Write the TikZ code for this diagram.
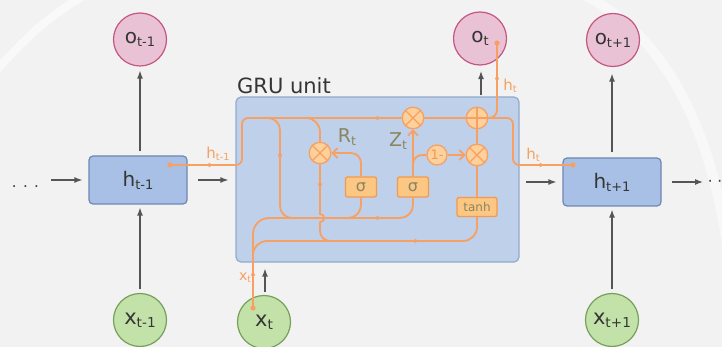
\documentclass[tikz,border=0pt]{standalone}
\usepackage{fontspec}
\setmainfont{DejaVu Sans}
\usetikzlibrary{arrows.meta}
\definecolor{bgc}{HTML}{F2F2F2}
\definecolor{ofill}{HTML}{EAC2D5}
\definecolor{odraw}{HTML}{C4567F}
\definecolor{xfill}{HTML}{C2E2AA}
\definecolor{xdraw}{HTML}{74A057}
\definecolor{hfill}{HTML}{A8C0E6}
\definecolor{hdraw}{HTML}{6D88B4}
\definecolor{gfill}{HTML}{BED0EA}
\definecolor{gdraw}{HTML}{93AACB}
\definecolor{orl}{HTML}{F7A062}
\definecolor{orf}{HTML}{FDD19C}
\definecolor{sfill}{HTML}{FCC782}
\definecolor{sdraw}{HTML}{F29A50}
\definecolor{olv}{HTML}{8A8560}
\definecolor{txt}{HTML}{353535}
\definecolor{arr}{HTML}{555555}
\newcommand{\lsub}[1]{\raisebox{-0.15em}{\scalebox{0.65}{#1}}}
\newcommand{\fs}[1]{\fontsize{#1}{#1}\selectfont}
\begin{document}
\begin{tikzpicture}[x=1pt,y=-1pt,
  outc/.style={circle,draw=odraw,fill=ofill,line width=1.2pt,minimum size=53pt,inner sep=0pt,text=txt,font=\fs{20}},
  inc/.style={circle,draw=xdraw,fill=xfill,line width=1.2pt,minimum size=53pt,inner sep=0pt,text=txt,font=\fs{21}},
  hbox/.style={rectangle,rounded corners=4pt,draw=hdraw,fill=hfill,line width=1.2pt,minimum width=98pt,minimum height=48pt,inner sep=0pt,text=txt,font=\fs{20}},
  blk/.style={draw=arr,line width=1.3pt,-{Latex[length=8pt,width=6pt]}},
  ol/.style={draw=orl,line width=1.8pt},
  mult/.style={circle,draw=orl,fill=orf,line width=1.3pt,minimum size=21.5pt,inner sep=0pt,path picture={\draw[orl,line width=1.3pt] (path picture bounding box.north west)--(path picture bounding box.south east) (path picture bounding box.north east)--(path picture bounding box.south west);}},
  addc/.style={circle,draw=orl,fill=orf,line width=1.3pt,minimum size=21.5pt,inner sep=0pt,path picture={\draw[orl,line width=1.3pt] (path picture bounding box.north)--(path picture bounding box.south) (path picture bounding box.west)--(path picture bounding box.east);}},
  gate/.style={rectangle,rounded corners=2pt,draw=sdraw,fill=sfill,line width=1.3pt,minimum width=31pt,minimum height=20pt,inner sep=0pt,text=olv,font=\fs{16}},
  olab/.style={text=orl,inner sep=0pt,font=\fs{15}},
  glab/.style={text=olv,inner sep=0pt,font=\fs{19}},
  midr/.style={-{Latex[length=5.5pt,width=5pt]}},
  opn/.style={-{Straight Barb[length=5pt,width=10pt]}},
]
\fill[bgc] (0,0) rectangle (722,347);
\useasboundingbox (0,0) rectangle (722,347);
\draw[white,line width=8pt,opacity=.6] (-5,72) .. controls (25,38) and (50,15) .. (85,-5);
\draw[white,line width=10pt,opacity=.5] (578,-8) .. controls (660,30) and (712,120) .. (730,265);

% outer nodes
\node[outc] (otm1) at (140,39.5) {o\lsub{t-1}};
\node[outc] (ot) at (480,38.5) {o\lsub{t}};
\node[outc] (otp1) at (613,40) {o\lsub{t+1}};
\node[inc] (xtm1) at (140,320) {x\lsub{t-1}};
\node[inc] (xt) at (264,322) {x\lsub{t}};
\node[inc] (xtp1) at (612,320) {x\lsub{t+1}};
\node[hbox] (htm1) at (138,180) {h\lsub{t-1}};
\node[hbox] (htp1) at (612,182) {h\lsub{t+1}};
\node[draw=gdraw,fill=gfill,rounded corners=5pt,line width=1.2pt,minimum width=283pt,minimum height=165pt,inner sep=0pt] (gru) at (377.5,179.5) {};
\node[anchor=base west,text=txt,font=\fs{21},inner sep=0pt] (grulab) at (237,93.5) {GRU unit};
\node[anchor=base,text=txt,font=\fs{15},inner sep=0pt] (dl) at (25.5,188) {. . .};
\node[anchor=base west,text=txt,font=\fs{15},inner sep=0pt] (dr) at (707.6,186.5) {· ·};

% black arrows
\draw[blk,shorten <=12pt,shorten >=6pt] (dl.east |- htm1.west) -- (htm1.west);
\draw[blk,shorten <=10pt,shorten >=7pt] (htm1.east) -- (htm1.east -| gru.west);
\draw[blk,shorten <=6pt,shorten >=6pt] (htp1.west -| gru.east) -- (htp1.west);
\draw[blk,shorten <=10pt,shorten >=4.6pt] (htp1.east) -- (htp1.east -| dr.west);
\draw[blk,shorten <=3.5pt,shorten >=3pt] (xtm1.north) -- (xtm1.north |- htm1.south);
\draw[blk,shorten <=4pt,shorten >=4pt] (otm1.south |- htm1.north) -- (otm1.south);
\draw[blk,shorten <=2.5pt,shorten >=6pt] ([xshift=1pt]xt.north) -- ([xshift=1pt]xt.north |- gru.south);
\draw[blk,shorten <=1pt,shorten >=5.5pt] ([xshift=1pt]ot.south |- gru.north) -- ([xshift=1pt]ot.south);
\draw[blk,shorten <=3.5pt,shorten >=3pt] (xtp1.north) -- (xtp1.north |- htp1.south);
\draw[blk,shorten <=5pt,shorten >=6.5pt] (htp1.north) -- (htp1.north |- otp1.south);

% gate nodes
\node[mult] (mR) at (320,153) {};
\node[mult] (mZ) at (413,118) {};
\node[addc] (pl) at (477,118) {};
\node[mult] (mH) at (477,155) {};
\node[gate] (sR) at (361,187) {σ};
\node[gate] (sZ) at (413,187) {σ};
\node[gate,minimum width=40pt,minimum height=19pt,font=\fs{12}] (th) at (477,207) {tanh};
\node[circle,draw=orl,fill=orf,line width=1.3pt,minimum size=20pt,inner sep=0pt,text=sdraw,font=\fs{13}] (om) at (437,155) {1-};

% orange connectors
\coordinate (dA) at (170,165);
\coordinate (dX) at (253,308);
\coordinate (dO) at (497,43);
\coordinate (dH) at (573,165);
\draw[ol,midr] (dA) -- (214,165);
\draw[ol,rounded corners=6pt] (212,165) -- (242,165) -- (242,118) -- (mZ.west);
\draw[ol,midr] (300,118) -- (382,118);
\draw[ol,rounded corners=12pt] (255,118) -| (280,218) -- (300,218);
\draw[ol,midr] (280,140) -- (280,160);
\draw[ol,rounded corners=14pt] (295,118) -| (mR.north);
\draw[ol,rounded corners=16pt] (dX) -- (253,218) -- (300,218);
\draw[ol,rounded corners=14pt] (dX) -- (253,241) -- (477,241) -- (th.south);
\draw[ol,midr] (dX) -- (253,270);
\draw[ol,midr] (400,241) -- (420,241);
\draw[ol,rounded corners=13pt] (290,218) -- (413,218) -- (sZ.south);
\draw[ol,rounded corners=13pt] (330,218) -| (sR.south);
\draw[ol,midr] (365,218) -- (382,218);
\draw[ol] (mR.south) -- (320,214) .. controls (325.5,214) and (325.5,222) .. (320,222);
\draw[ol,rounded corners=10pt] (320,222) -- (320,241) -- (345,241);
\draw[ol,midr] (320,170) -- (320,189);
\draw[ol,opn,rounded corners=10pt] (sR.north) |- (mR.east);
\draw[ol,opn] (sZ) -- (mZ);
\draw[ol,rounded corners=9pt] (sZ.north) |- (om.west);
\draw[ol,opn] (om.east) -- (mH.west);
\draw[ol] (th) -- (mH);
\draw[ol] (mH) -- (pl);
\draw[ol] (mZ) -- (pl);
\draw[ol,rounded corners=8pt] (pl.east) -| (dO);
\draw[ol,midr] (497,95) -- (497,74);
\draw[ol,rounded corners=6pt] (pl.east) -- (513,118) -- (513,165) -- (dH);
\draw[ol,midr] (525,165) -- (545,165);
\fill[orl] (dA) circle (2.6pt);
\fill[orl] (dX) circle (2.6pt);
\fill[orl] (dO) circle (2.6pt);
\fill[orl] (dH) circle (2.6pt);

% labels
\node[olab] (lh1) at (218,154) {h\lsub{t-1}};
\node[olab] (lh2) at (533,155) {h\lsub{t}};
\node[olab] (lh3) at (510,86) {h\lsub{t}};
\node[olab,font=\fs{14}] (lx) at (245,278) {x\lsub{t}};
\node[glab] (lR) at (347,137) {R\lsub{t}};
\node[glab] (lZ) at (398,141) {Z\lsub{t}};
\end{tikzpicture}
\end{document}
